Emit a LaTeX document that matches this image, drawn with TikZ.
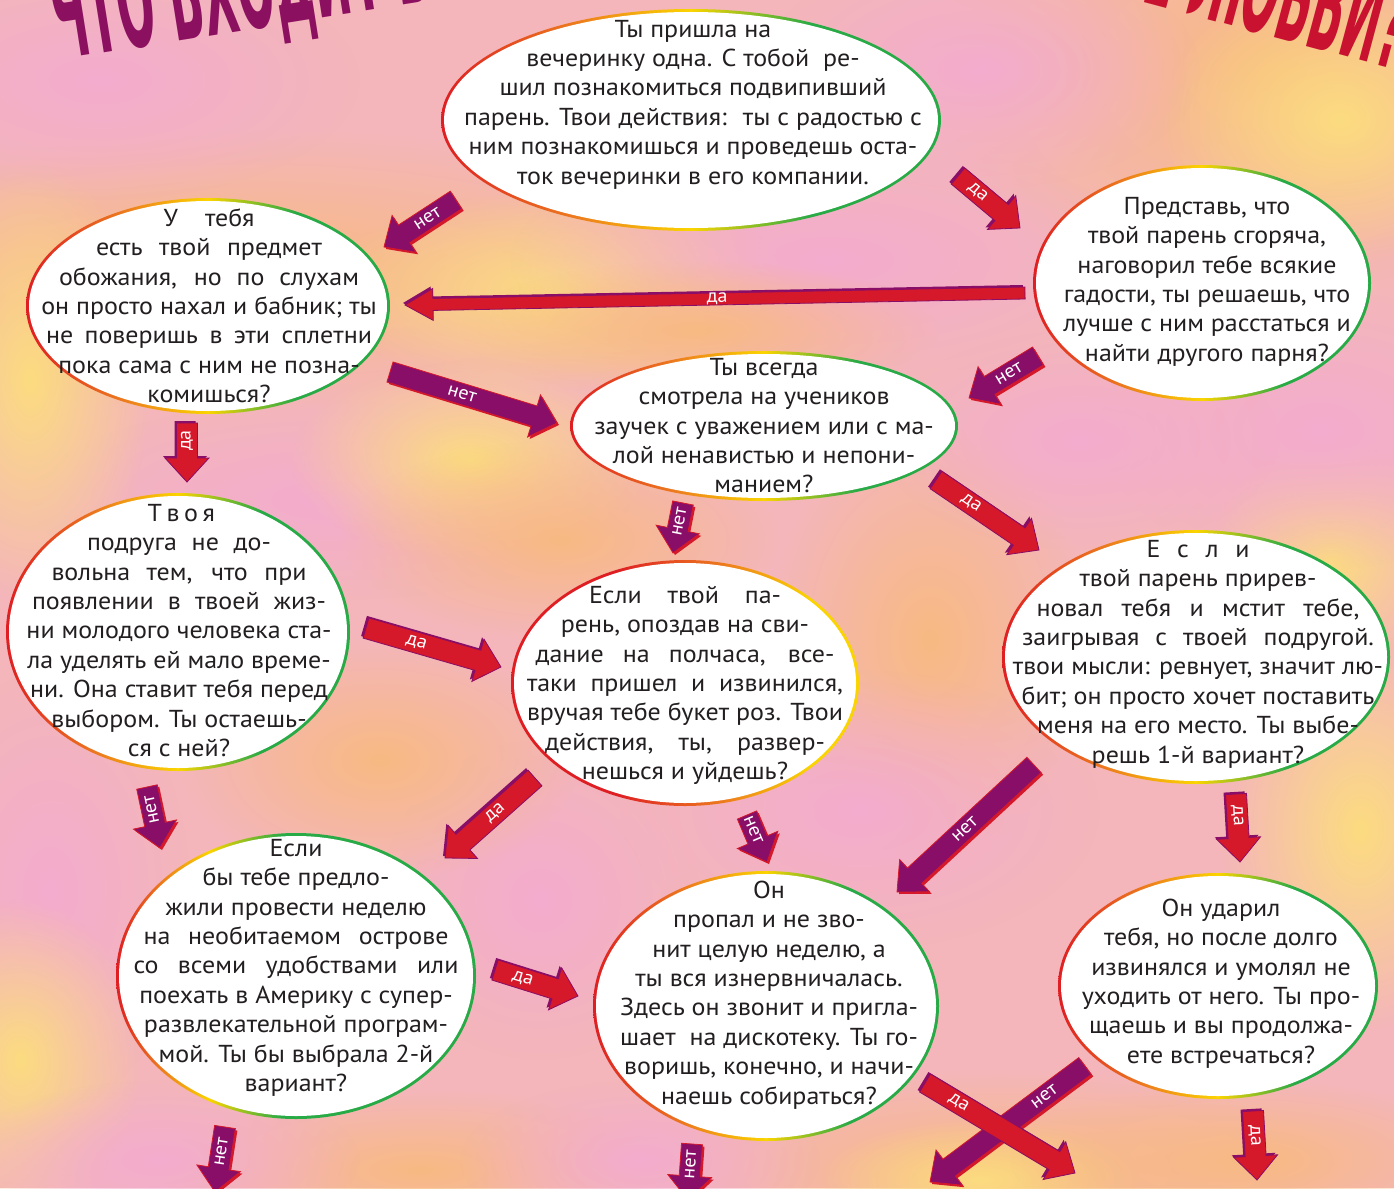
\documentclass[tikz,border=0pt]{standalone}
\usepackage{fontspec}
\setmainfont{PT Sans}[FakeStretch=1.06]
\newfontfamily\titlefont{DejaVu Sans}
\usetikzlibrary{shapes.geometric,fadings}
\definecolor{bgbase}{RGB}{244,182,186}
\definecolor{bgpink}{RGB}{243,172,206}
\definecolor{bgorange}{RGB}{248,186,130}
\definecolor{bgyellow}{RGB}{252,220,128}
\definecolor{txtc}{RGB}{35,31,32}
\definecolor{arred}{RGB}{213,24,42}
\definecolor{arpurple}{RGB}{136,14,104}
\definecolor{rimred}{RGB}{222,30,35}
\definecolor{rimorange}{RGB}{236,120,30}
\definecolor{rimyellow}{RGB}{250,212,0}
\definecolor{rimgreen}{RGB}{40,170,70}
\definecolor{ttlpurple}{RGB}{140,16,96}
\definecolor{ttlred}{RGB}{200,18,48}
\pgfdeclarehorizontalshading{rimA}{100bp}{color(0bp)=(rimred); color(25bp)=(rimred); color(38bp)=(rimorange); color(50bp)=(rimyellow); color(62bp)=(rimgreen); color(75bp)=(rimgreen); color(100bp)=(rimgreen)}
\pgfdeclarehorizontalshading{rimB}{100bp}{color(0bp)=(rimred); color(25bp)=(rimred); color(31bp)=(rimorange); color(38bp)=(rimyellow); color(48bp)=(rimgreen); color(75bp)=(rimgreen); color(100bp)=(rimgreen)}
\pgfdeclarehorizontalshading{rimC}{100bp}{color(0bp)=(rimred); color(25bp)=(rimred); color(40bp)=(rimred); color(55bp)=(rimorange); color(68bp)=(rimyellow); color(75bp)=(rimyellow); color(100bp)=(rimyellow)}
\tikzfading[name=softblob, inner color=transparent!0, outer color=transparent!100]
\newcommand\jb[2]{\makebox[#1pt][s]{#2}}
\newcommand\fl{\rule{0pt}{18pt}}
\newcommand\blob[5]{\fill[#5, path fading=softblob] (#1,#2) ellipse [x radius=#3*2, y radius=#4*2];}
\newcommand\bubble[6]{%
  \shade[shading=#6] (#2,#3) ellipse [x radius=#4+2, y radius=#5+2];
  \pgfmathsetmacro\bubW{2*#4-2}\pgfmathsetmacro\bubH{2*#5-2}%
  \node[bubfill, minimum width=\bubW pt, minimum height=\bubH pt] (#1) at (#2,#3) {};}
\def\faSW{21}\def\faHW{44}\def\faHL{24}
\newcommand\farrow[9]{%
  \coordinate (#1t) at (#2,#3);
  \coordinate (#1h) at (#4,#5);
  \pgfmathsetmacro\faDx{#4-(#2)}%
  \pgfmathsetmacro\faDy{(#3)-(#5)}%
  \pgfmathsetmacro\faAng{atan2(\faDy,\faDx)}%
  \pgfmathsetmacro\faLen{veclen(\faDx,\faDy)}%
  \pgfmathsetmacro\faHb{\faLen-\faHL}%
  \pgfmathsetmacro\faPos{\faHb*#9}%
  \begin{scope}[shift={(#2+\csname fa#6off\endcsname,#3+\csname fa#6off\endcsname)}, rotate=\faAng]
    \fill[#6shadow] (0,{\faSW/2}) -- (\faHb,{\faSW/2}) -- (\faHb,{\faHW/2}) -- (\faLen,0) -- (\faHb,{-\faHW/2}) -- (\faHb,{-\faSW/2}) -- (0,{-\faSW/2}) -- cycle;
  \end{scope}
  \begin{scope}[shift={(#1t)}, rotate=\faAng]
    \path[#6arrow] (0,{\faSW/2}) -- (\faHb,{\faSW/2}) -- (\faHb,{\faHW/2}) -- (\faLen,0) -- (\faHb,{-\faHW/2}) -- (\faHb,{-\faSW/2}) -- (0,{-\faSW/2}) -- cycle;
    \node[arlabel, rotate=#8] (#1l) at (\faPos,0) {#7};
  \end{scope}}
\def\fayesoff{-2}\def\fanooff{2}
\begin{document}
\begin{tikzpicture}[x=1pt,y=-1pt,
  bubfill/.style={ellipse, fill=white, inner sep=0pt, draw=none},
  qtext/.style={align=center, inner sep=0pt, text=txtc, font=\fontsize{24.5}{29.4}\selectfont, anchor=north},
  yesarrow/.style={fill=arred, draw=arpurple, line width=0.8pt, line join=miter},
  yesshadow/.style={fill=arpurple},
  noarrow/.style={fill=arpurple, draw=arred, line width=0.8pt, line join=miter},
  noshadow/.style={fill=arred},
  arlabel/.style={text=white, inner sep=0pt, font=\fontsize{19}{19}\selectfont},
  ttl/.style={inner sep=0pt, font=\titlefont\bfseries\fontsize{130}{130}\selectfont}]
\useasboundingbox (0,0) rectangle (1394,1188);
\clip (0,0) rectangle (1394,1188);
\fill[bgbase] (0,0) rectangle (1394,1188);
% background mottling
\blob{250}{270}{260}{70}{bgorange}
\blob{560}{290}{120}{50}{bgyellow}
\blob{1270}{70}{170}{120}{bgorange}
\blob{1340}{120}{90}{70}{bgyellow}
\blob{830}{260}{160}{60}{bgpink}
\blob{330}{500}{150}{50}{bgpink}
\blob{30}{380}{60}{110}{bgyellow}
\blob{470}{460}{90}{50}{bgyellow}
\blob{560}{540}{110}{50}{bgorange}
\blob{930}{640}{80}{110}{bgorange}
\blob{860}{810}{120}{70}{bgpink}
\blob{1360}{830}{70}{100}{bgyellow}
\blob{1000}{1170}{170}{50}{bgorange}
\blob{980}{1180}{80}{30}{bgyellow}
\blob{420}{1170}{130}{40}{bgorange}
\blob{540}{900}{80}{80}{bgpink}
\blob{50}{890}{70}{110}{bgpink}
\blob{20}{1060}{60}{80}{bgyellow}
\blob{1330}{560}{60}{60}{bgyellow}
\blob{1320}{430}{110}{70}{bgpink}
\blob{700}{330}{120}{35}{bgorange}
\blob{380}{760}{100}{60}{bgorange}
\blob{1080}{440}{100}{55}{bgpink}
\blob{100}{80}{130}{60}{bgpink}
\blob{980}{70}{110}{60}{bgpink}
\blob{640}{1160}{90}{40}{bgpink}
\blob{160}{1160}{100}{40}{bgpink}
\blob{1250}{1160}{120}{40}{bgorange}
% title fragments
\node[ttl, text=ttlpurple, rotate=9, anchor=base west] (ttlA) at (58,60) {\scalebox{0.34}[1]{ЧТО ВХОДИТ В}};
\node[ttl, text=ttlred, rotate=-15, anchor=base east] (ttlB) at (1396,70) {\scalebox{0.34}[1]{ПОНИМАНИЕ ЛЮБВИ?}};
% bubbles
\bubble{q1}{691}{120}{248}{109}{rimA}
\bubble{q2}{208}{306}{180}{106}{rimA}
\bubble{q3}{1202}{283}{167}{116}{rimA}
\bubble{q4}{764}{426}{192}{73}{rimA}
\bubble{q5}{178}{632}{170}{137}{rimA}
\bubble{q6}{685}{683}{172}{121}{rimC}
\bubble{q7}{1196}{657}{192}{125}{rimA}
\bubble{q8}{296}{976}{178}{141}{rimB}
\bubble{q9}{766}{1006}{171}{133}{rimA}
\bubble{q10}{1218}{986}{158}{111}{rimA}
% texts
\node[qtext] (q1t) at (693,19) {\fl Ты пришла на\\ вечеринку одна. С~тобой~ ре-\\ шил познакомиться подвипивший\\ парень. Твои действия:~ ты с радостью с\\ ним познакомишься и проведешь оста-\\ ток вечеринки в его компании.};
\node[qtext] (q2t) at (209,208) {\fl\jb{91}{У тебя}\\ \jb{226}{есть твой предмет}\\ \jb{300}{обожания, но по слухам}\\ он просто нахал и бабник; ты\\ \jb{326}{не поверишь в эти сплетни}\\ пока сама с ним не позна-\\ комишься?};
\node[qtext] (q3t) at (1207,196) {\fl Представь, что\\ твой парень сгоряча,\\ наговорил тебе всякие\\ гадости, ты решаешь, что\\ лучше с ним расстаться и\\ найти другого парня?};
\node[qtext] (q4t) at (764,357) {\fl Ты всегда\\ смотрела на учеников\\ заучек с уважением или с ма-\\ лой ненавистью и непони-\\ манием?};
\node[qtext] (q5t) at (179,503) {\fl\jb{63}{Т в о я}\\ \jb{184}{подруга не до-}\\ \jb{255}{вольна тем, что при}\\ \jb{294}{появлении в твоей жиз-}\\ ни молодого человека ста-\\ ла уделять ей мало време-\\ ни. Она ставит тебя перед\\ выбором. Ты остаешь-\\ ся с ней?};
\node[qtext] (q6t) at (685,585) {\fl\jb{192}{Если твой па-}\\ рень, опоздав на сви-\\ \jb{299}{дание на полчаса, все-}\\ \jb{316}{таки пришел и извинился,}\\ вручая тебе букет роз. Твои\\ \jb{280}{действия, ты, развер-}\\ нешься и уйдешь?};
\node[qtext] (q7t) at (1198,539) {\fl\jb{103}{Е с л и}\\ твой парень прирев-\\ \jb{323}{новал тебя и мстит тебе,}\\ \jb{352}{заигрывая с твоей подругой.}\\ твои мысли: ревнует, значит лю-\\ бит; он просто хочет поставить\\ меня на его место. Ты выбе-\\ решь 1-й вариант?};
\node[qtext] (q8t) at (296,838) {\fl Если\\ бы тебе предло-\\ жили провести неделю\\ \jb{305}{на необитаемом острове}\\ \jb{325}{со всеми удобствами или}\\ поехать в Америку с супер-\\ развлекательной програм-\\ мой. Ты бы выбрала 2-й\\ вариант?};
\node[qtext] (q9t) at (769,880) {\fl Он\\ пропал и не зво-\\ нит целую неделю, а\\ ты вся изнервничалась.\\ Здесь он звонит и пригла-\\ шает~ на дискотеку. Ты го-\\ воришь, конечно, и начи-\\ наешь собираться?};
\node[qtext] (q10t) at (1221,898) {\fl Он ударил\\ тебя, но после долго\\ извинялся и умолял не\\ уходить от него. Ты про-\\ щаешь и вы продолжа-\\ ете встречаться?};
% arrows
\farrow{a1}{456}{200}{384}{247}{no}{нет}{33}{0.55}
\farrow{a2}{958}{176}{1020}{228}{yes}{да}{-40}{0.45}
\def\faSW{12}\def\faHW{32}\def\faHL{28}
\farrow{a3}{1025}{293}{405}{305}{yes}{да}{1}{0.52}
\def\faSW{21}\def\faHW{44}\def\faHL{24}
\farrow{a4}{1038}{356}{969}{398}{no}{нет}{31}{0.6}
\farrow{a5}{390}{372}{557}{423}{no}{нет}{-17}{0.5}
\farrow{a6}{187}{423}{187}{482}{yes}{да}{90}{0.5}
\farrow{a7}{366}{628}{501}{667}{yes}{да}{-16}{0.45}
\farrow{a8}{535}{778}{445}{858}{yes}{да}{41.6}{0.55}
\farrow{a9}{147}{787}{160}{848}{no}{нет}{102}{0.6}
\farrow{a10}{683}{503}{673}{553}{no}{нет}{79}{0.7}
\farrow{a11}{936}{480}{1039}{550}{yes}{да}{-34}{0.42}
\farrow{a12}{747}{815}{767}{862}{no}{нет}{-67}{0.6}
\farrow{a13}{1034}{765}{897}{892}{no}{нет}{43}{0.58}
\farrow{a14}{1236}{794}{1240}{862}{yes}{да}{-87}{0.5}
\farrow{a15}{495}{970}{578}{996}{yes}{да}{-17}{0.46}
\farrow{a17}{1085}{1066}{930}{1182}{no}{нет}{37}{0.3}
\farrow{a16}{925}{1083}{1075}{1173}{yes}{да}{-31}{0.26}
\farrow{a18}{1253}{1111}{1257}{1180}{yes}{да}{-87}{0.55}
\farrow{a19}{225}{1127}{215}{1192}{no}{нет}{81}{0.6}
\farrow{a20}{692}{1144}{688}{1200}{no}{нет}{86}{0.65}
\end{tikzpicture}
\end{document}
